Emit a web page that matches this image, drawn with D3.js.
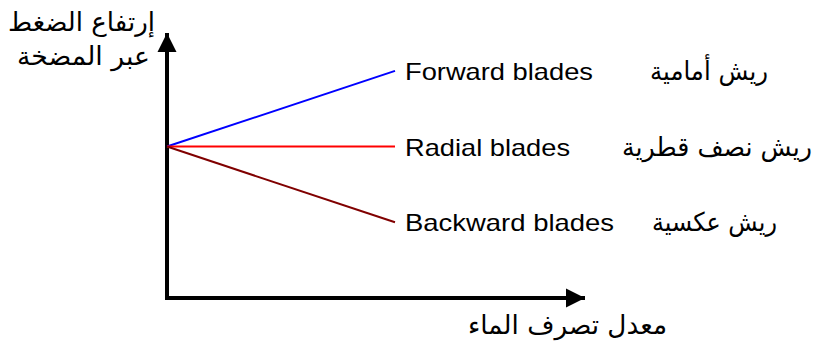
<!DOCTYPE html>
<html>
<head>
<meta charset="utf-8">
<script src="https://cdn.jsdelivr.net/npm/d3@7"></script>
<style>
  body { margin: 0; background: #fff; }
  svg { display: block; }
  text { fill: #000; }
</style>
</head>
<body>
<div id="chart"></div>
<script>
// blade types, English and Arabic names
const bladeNames = ['Forward blades', 'Radial blades', 'Backward blades'];
const bladeNamesAr = ['ريش أمامية', 'ريش نصف قطرية', 'ريش عكسية'];
const bladeColors = ['#0000ff', '#ff0000', '#800000'];

// flow rate (x) at start and end of each line
const flowRate = [0, 6];
// head rise (y) for each blade type at those flow rates
const headForward = [4, 6];
const headRadial = [4, 4];
const headBackward = [4, 2];
const heads = [headForward, headRadial, headBackward];

// axis titles
const yTitle = ['إرتفاع الضغط', 'عبر المضخة'];
const xTitle = 'معدل تصرف الماء';

const width = 817, height = 344;

const svg = d3.select('#chart')
  .append('svg')
  .attr('width', width)
  .attr('height', height);

const x = d3.scaleLinear().domain([0, 11]).range([167, 585]);
const y = d3.scaleLinear().domain([0, 7]).range([298, 33]);

// arrow heads for the axes
const defs = svg.append('defs');
defs.append('marker')
  .attr('id', 'arrow')
  .attr('viewBox', '0 0 10 10')
  .attr('refX', 10)
  .attr('refY', 5)
  .attr('markerUnits', 'userSpaceOnUse')
  .attr('markerWidth', 19)
  .attr('markerHeight', 20)
  .attr('orient', 'auto')
  .append('path')
  .attr('d', 'M0,0L10,5L0,10Z')
  .attr('fill', '#000');

const x0 = x.domain()[0], x1 = x.domain()[1];
const y0 = y.domain()[0], y1 = y.domain()[1];

// y axis
svg.append('line')
  .attr('x1', x(x0)).attr('y1', y(y0) + 2)
  .attr('x2', x(x0)).attr('y2', y(y1))
  .attr('stroke', '#000')
  .attr('stroke-width', 4)
  .attr('marker-end', 'url(#arrow)');

// x axis
svg.append('line')
  .attr('x1', x(x0) - 2).attr('y1', y(y0))
  .attr('x2', x(x1)).attr('y2', y(y0))
  .attr('stroke', '#000')
  .attr('stroke-width', 4)
  .attr('marker-end', 'url(#arrow)');

// the three characteristic lines
const line = d3.line()
  .x((d, i) => x(flowRate[i]))
  .y(d => y(d));

svg.selectAll('.blade')
  .data(heads)
  .enter()
  .append('path')
  .attr('class', 'blade')
  .attr('d', d => line(d))
  .attr('fill', 'none')
  .attr('stroke', (d, i) => bladeColors[i])
  .attr('stroke-width', 2);

// fit a text to a given width (source picture is stretched horizontally)
const fit = (sel, w) => sel.attr('textLength', w).attr('lengthAdjust', 'spacingAndGlyphs');

const enFont = '"Liberation Sans", Arial, sans-serif';
const arFont = '"DejaVu Sans", sans-serif';
const enWidths = [188, 165, 209];
const arWidths = [118, 190, 125];
const arRight = [768, 812, 777];

const xEnd = x(flowRate[1]);

svg.selectAll('.label-en')
  .data(bladeNames)
  .enter()
  .append('text')
  .attr('class', 'label-en')
  .attr('x', xEnd + 10)
  .attr('y', (d, i) => y(heads[i][1]) + 9)
  .attr('font-family', enFont)
  .attr('font-size', 24)
  .text(d => d)
  .each(function(d, i) { fit(d3.select(this), enWidths[i]); });

svg.selectAll('.label-ar')
  .data(bladeNamesAr)
  .enter()
  .append('text')
  .attr('class', 'label-ar')
  .attr('x', (d, i) => arRight[i])
  .attr('y', (d, i) => y(heads[i][1]) + 9)
  .attr('text-anchor', 'end')
  .attr('font-family', arFont)
  .attr('font-size', 26)
  .text(d => d)
  .each(function(d, i) { fit(d3.select(this), arWidths[i]); });

// y axis title, two lines to the left of the arrow
const yTitleWidths = [147, 133];
const yTitleRight = [155, 150];
svg.selectAll('.y-title')
  .data(yTitle)
  .enter()
  .append('text')
  .attr('class', 'y-title')
  .attr('x', (d, i) => yTitleRight[i])
  .attr('y', (d, i) => 31 + i * 34)
  .attr('text-anchor', 'end')
  .attr('font-family', arFont)
  .attr('font-size', 26)
  .text(d => d)
  .each(function(d, i) { fit(d3.select(this), yTitleWidths[i]); });

// x axis title under the arrow
svg.append('text')
  .attr('x', 667)
  .attr('y', 334)
  .attr('text-anchor', 'end')
  .attr('font-family', arFont)
  .attr('font-size', 26)
  .text(xTitle)
  .call(fit, 199);
</script>
</body>
</html>
